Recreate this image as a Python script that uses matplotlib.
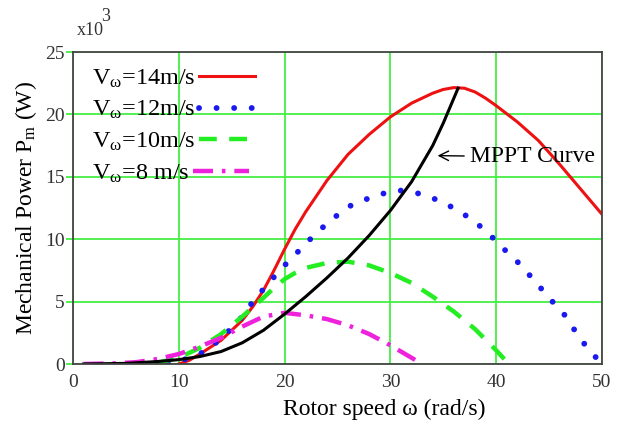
import numpy as np
import matplotlib
matplotlib.use("Agg")
import matplotlib.pyplot as plt

plt.rcParams['font.family'] = ['Liberation Serif', 'DejaVu Serif']
plt.rcParams['mathtext.fontset'] = 'custom'
plt.rcParams['mathtext.rm'] = 'Liberation Serif'
plt.rcParams['mathtext.it'] = 'Liberation Serif'

# rotor speed (rad/s) and mechanical power (x10^3 W)
w14 = [10, 11, 12, 14, 16, 17, 18, 19, 20, 21, 22, 24, 26, 28, 30, 32, 34, 35, 36, 37, 38, 39,
       40, 42, 44, 46, 48, 50]
p14 = [0, 0.3, 0.8, 1.9, 3.5, 4.6, 5.9, 7.5, 9.2, 10.8, 12.2, 14.7, 16.8, 18.4, 19.8, 20.9,
       21.7, 22.0, 22.15, 22.1, 21.8, 21.3, 20.7, 19.4, 17.9, 16.0, 14.0, 12.0]

w12 = [9, 10, 12, 14, 16, 17, 18.5, 20, 21.5, 23, 24.5, 26, 28, 29.5, 31, 32.5, 34, 36,
       37.5, 39, 40.5, 42, 43.5, 45, 46.5, 47.5, 48.6, 50]
p12 = [0, 0.2, 0.8, 2.0, 3.8, 5.0, 6.5, 7.9, 9.2, 10.5, 11.6, 12.6, 13.3, 13.7, 13.9, 13.7,
       13.3, 12.5, 11.7, 10.7, 9.4, 8.2, 6.8, 5.3, 3.9, 2.6, 1.3, 0]

w10 = [5, 8, 10, 12, 14, 16, 18, 19, 20, 21, 22, 24, 26, 28, 30, 32, 34, 36, 38, 40, 41.2]
p10 = [0, 0.1, 0.5, 1.3, 2.4, 3.8, 5.3, 6.1, 6.8, 7.3, 7.7, 8.1, 8.2, 7.9, 7.3, 6.5, 5.4, 4.2,
       2.8, 1.1, 0]

w8 = [1, 4, 6, 8, 10, 12, 14, 16, 18, 20, 22, 24, 26, 28, 30, 32, 33]
p8 = [0, 0.05, 0.15, 0.4, 0.8, 1.4, 2.1, 3.0, 3.8, 4.1, 3.9, 3.6, 3.1, 2.4, 1.5, 0.5, 0]

w_mppt = [1, 5, 8, 10, 12, 14, 16, 18, 20, 22, 24, 26, 28, 30, 32, 34, 35, 36.4]
p_mppt = [0, 0.05, 0.2, 0.35, 0.6, 1.0, 1.7, 2.7, 4.0, 5.4, 6.9, 8.5, 10.3, 12.3, 14.6, 17.5,
          19.3, 22.1]

fig = plt.figure(figsize=(6.26, 4.24), dpi=100)
ax = fig.add_axes([0.1166, 0.1415, 0.845, 0.7358])

ax.plot(w14, p14, color='#ee1111', lw=2.2, label=r'V$_{\omega}$=14m/s')
ax.plot(w12, p12, color='#1a1aee', lw=4.2, linestyle=(0, (0.01, 3.0)),
        dash_capstyle='round', label=r'V$_{\omega}$=12m/s')
ax.plot(w10, p10, color='#22ee22', lw=3.2, linestyle=(0, (4.0, 2.8)),
        label=r'V$_{\omega}$=10m/s')
ax.plot(w8, p8, color='#ee22dd', lw=3.2, linestyle=(0, (4.5, 2.0, 0.8, 2.0)),
        label=r'V$_{\omega}$=8 m/s')
ax.plot(w_mppt, p_mppt, color='black', lw=2.2)

ax.set_xlim(0, 50)
ax.set_ylim(0, 25)
ax.set_xticks([0, 10, 20, 30, 40, 50])
ax.set_yticks([0, 5, 10, 15, 20, 25])
ax.grid(True, color='#44ee44', lw=1.3)
ax.set_axisbelow(True)
ax.tick_params(axis='y', labelsize=14, colors='#44ee44', labelcolor='#333333',
               length=5, width=1.3, direction='out', pad=1)
ax.tick_params(axis='x', labelsize=14, labelcolor='#333333', length=0, pad=7)
for s in ax.spines.values():
    s.set_color('#444444')
    s.set_linewidth(1.3)

ax.set_xlabel('Rotor speed ω (rad/s)', fontsize=17)
ax.xaxis.set_label_coords(0.588, -0.11)
ax.set_ylabel(r'Mechanical Power P$_{\mathrm{m}}$ (W)', fontsize=17, labelpad=4)
fig.text(0.123, 0.917, 'x10', fontsize=13, ha='left', va='baseline', color='#333333')
fig.text(0.162, 0.950, '3', fontsize=13, ha='left', va='baseline', color='#333333')

ax.annotate('MPPT Curve', xy=(34.2, 16.7), xytext=(37.5, 16.6),
            fontsize=17, va='center', ha='left',
            arrowprops=dict(arrowstyle='->', color='black', lw=1.0))

leg = ax.legend(loc='upper left', bbox_to_anchor=(0.036, 0.95), frameon=False,
                markerfirst=False, fontsize=17.5, handlelength=2.3, labelspacing=0.38,
                borderaxespad=0, handletextpad=0.15, borderpad=0)
for col in leg._legend_handle_box.get_children():
    col.align = 'left'

fig.savefig('out.png', dpi=100)
